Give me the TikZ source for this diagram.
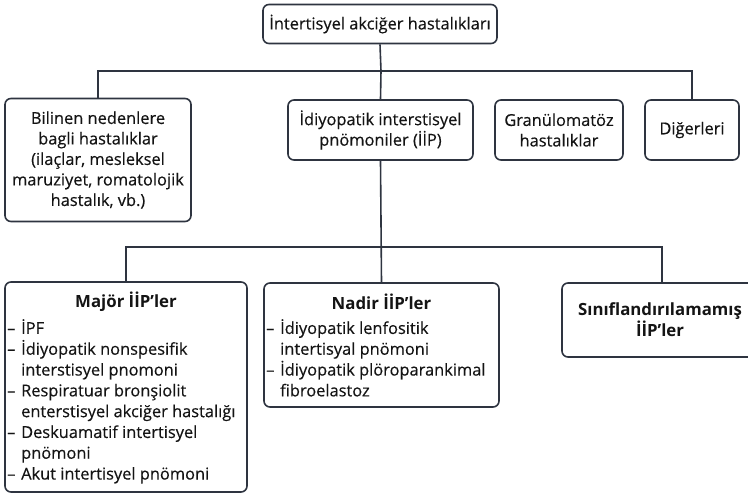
\documentclass[tikz,border=0pt]{standalone}
\usepackage{fontspec}
\setmainfont{Open Sans}[UprightFeatures={FakeBold=0.35}]
\definecolor{edge}{HTML}{2E3440}
\definecolor{ink}{HTML}{141414}
\begin{document}
\begin{tikzpicture}[x=1pt,y=-1pt,
  box/.style={draw=edge,line width=1.6pt,rounded corners=6pt,fill=white,inner sep=0pt},
  txt/.style={text=ink,font=\fontsize{16.4}{20.5}\selectfont,align=center,inner sep=0pt},
  lst/.style={text=ink,font=\fontsize{16.4}{20.8}\selectfont,align=left,inner sep=0pt,anchor=north west},
  hd/.style={text=ink,font=\bfseries\fontsize{16.8}{21}\selectfont,align=center,inner sep=0pt},
  conn/.style={draw=edge,line width=1.6pt}]
\useasboundingbox (0,0) rectangle (748,495);
% boxes
\node[box,minimum width=234pt,minimum height=39pt] (top) at (380,24) {};
\node[box,minimum width=186pt,minimum height=123pt] (b1) at (98,160) {};
\node[box,minimum width=185pt,minimum height=60pt] (b2) at (380.5,130) {};
\node[box,minimum width=128pt,minimum height=60pt] (b3) at (559,130) {};
\node[box,minimum width=94pt,minimum height=60pt] (b4) at (692,130) {};
\node[box,minimum width=242pt,minimum height=210pt] (c1) at (126,387) {};
\node[box,minimum width=235pt,minimum height=124pt] (c2) at (381.5,345) {};
\node[box,minimum width=200pt,minimum height=74pt] (c3) at (662,320) {};
% texts
\node[txt] (ttop) at (top.center) {İntertisyel akciğer hastalıkları};
\node[txt] (tb1) at (b1.center) {Bilinen nedenlere\\bagli hastalıklar\\(ilaçlar, mesleksel\\maruziyet, romatolojik\\hastalık, vb.)};
\node[txt] (tb2) at (b2.center) {İdiyopatik interstisyel\\pnömoniler (İİP)};
\node[txt] (tb3) at (b3.center) {Granülomatöz\\hastalıklar};
\node[txt] (tb4) at (b4.center) {Diğerleri};
\node[hd] (tc1h) at (126,302) {Majör İİP’ler};
\node[lst] (tc1) at (7,319) {%
\makebox[14pt][l]{–}İPF\\
\makebox[14pt][l]{–}İdiyopatik nonspesifik\\
\hspace*{14pt}interstisyel pnomoni\\
\makebox[14pt][l]{–}Respiratuar bronşiolit\\
\hspace*{14pt}enterstisyel akciğer hastalığı\\
\makebox[14pt][l]{–}Deskuamatif intertisyel\\
\hspace*{14pt}pnömoni\\
\makebox[14pt][l]{–}Akut intertisyel pnömoni};
\node[hd] (tc2h) at (381.5,302) {Nadir İİP’ler};
\node[lst] (tc2) at (266,319) {%
\makebox[14pt][l]{–}İdiyopatik lenfositik\\
\hspace*{14pt}intertisyal pnömoni\\
\makebox[14pt][l]{–}İdiyopatik plöroparankimal\\
\hspace*{14pt}fibroelastoz};
\node[hd] (tc3) at (660,320) {Sınıflandırılamamış\\İİP’ler};
% connectors
\coordinate (j1) at (381,71);
\coordinate (j2) at (381,247);
\draw[conn] (top.south) -- (j1);
\draw[conn] (b1.north) |- (j1) -| (b4.north);
\draw[conn] (j1) -- (b2.north);
\draw[conn] (b2.south) -- (c2.north);
\draw[conn] (c1.north) |- (j2) -| (c3.north);
\end{tikzpicture}
\end{document}
